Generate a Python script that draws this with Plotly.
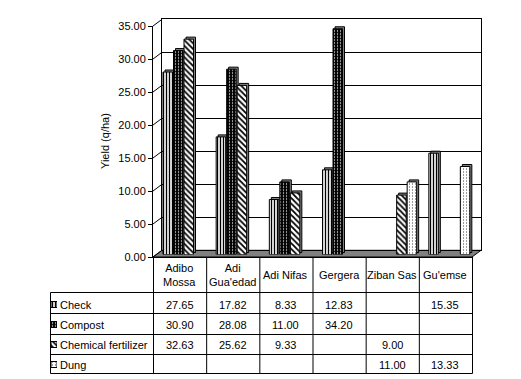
import plotly.graph_objects as go

# ---------------- data ----------------
categories = ["Adibo Mossa", "Adi Gua'edad", "Adi Nifas", "Gergera", "Ziban Sas", "Gu'emse"]
header_labels = ["Adibo<br>Mossa", "Adi<br>Gua'edad", "Adi Nifas", "Gergera", "Ziban Sas", "Gu'emse"]
series_names = ["Check", "Compost", "Chemical fertilizer", "Dung"]
check = [27.65, 17.82, 8.33, 12.83, None, 15.35]
compost = [30.90, 28.08, 11.00, 34.20, None, None]
chemical = [32.63, 25.62, 9.33, None, 9.00, None]
dung = [None, None, None, None, 11.00, 13.33]
y_ticks = [0, 5, 10, 15, 20, 25, 30, 35]
y_title = "Yield (q/ha)"

series_values = [check, compost, chemical, dung]

# ---------------- geometry helpers (pixels -> paper) ----------------
W, H = 521, 379
def px(x):
    return x / W
def py(y):
    return 1 - y / H

FONT = "Arial, Liberation Sans, sans-serif"
FX0, FX1 = 153, 472            # front plane x extent
BX0, BX1 = 162, 481            # back wall x extent
FY0, FY35 = 257, 26            # front axis y of 0 and 35
BY0, BY35 = 250.3, 19.3        # back wall y of 0 and 35
BARY0, BARY35 = 254.5, 23.5    # bar plane y of 0 and 35
YMAX = 35
cat_w = (BX1 - BX0) / len(categories)
unit_px = (BARY0 - BARY35) / YMAX

styles = [
    dict(shape="|", fgcolor="black", bgcolor="white", size=3, solidity=0.45),
    dict(shape=".", fgcolor="white", bgcolor="black", size=3, solidity=0.14),
    dict(shape="\\", fgcolor="black", bgcolor="white", size=4, solidity=0.45),
    dict(shape=".", fgcolor="black", bgcolor="white", size=3, solidity=0.1),
]

fig = go.Figure()

# empty traces so that the wall and the front-axis subplots are drawn
fig.add_trace(go.Scatter(x=[], y=[], xaxis="x", yaxis="y", showlegend=False, hoverinfo="skip"))

# shadow (3D side faces) first, then front faces
for i, vals in enumerate(series_values):
    off = -0.5 + (1 + 10.5 * i) / cat_w
    fig.add_trace(go.Bar(
        x=categories, y=vals, base=2 / unit_px,
        offset=off + 2 / cat_w, width=9.5 / cat_w,
        marker=dict(color="#808080", line=dict(color="black", width=1)),
        xaxis="x2", yaxis="y2", showlegend=False, hoverinfo="skip"))
for i, (name, vals) in enumerate(zip(series_names, series_values)):
    off = -0.5 + (1 + 10.5 * i) / cat_w
    fig.add_trace(go.Bar(
        x=categories, y=vals, name=name,
        offset=off, width=9.5 / cat_w,
        marker=dict(color="white", line=dict(color="black", width=1),
                    pattern=dict(fillmode="replace", **styles[i])),
        xaxis="x2", yaxis="y2", showlegend=False))

fig.add_trace(go.Scatter(x=[], y=[], xaxis="x3", yaxis="y3", showlegend=False, hoverinfo="skip"))

# legend keys in the table's first column
for i, name in enumerate(series_names):
    fig.add_trace(go.Bar(
        x=[1], y=[name], orientation="h", width=[0.3],
        marker=dict(color="white", line=dict(color="black", width=1),
                    pattern=dict(fillmode="replace", **styles[i])),
        xaxis="x4", yaxis="y4", showlegend=False, hoverinfo="skip"))

hidden = dict(visible=False)
fig.update_layout(
    width=W, height=H,
    margin=dict(l=0, r=0, t=0, b=0, autoexpand=False),
    paper_bgcolor="white", plot_bgcolor="rgba(0,0,0,0)",
    barmode="overlay", showlegend=False,
    font=dict(family=FONT, size=11, color="black"),
    # back wall with gridlines
    xaxis=dict(domain=[px(BX0), px(BX1)], range=[0, 1], anchor="y",
               showline=True, mirror=True, linecolor="black", linewidth=1,
               showgrid=False, zeroline=False, showticklabels=False, ticks=""),
    yaxis=dict(domain=[py(BY0), py(BY35)], range=[0, YMAX], anchor="x",
               tickvals=y_ticks, showgrid=True, gridcolor="black", gridwidth=1,
               showline=True, mirror=True, linecolor="black", linewidth=1,
               zeroline=False, showticklabels=False, ticks=""),
    # bars plane
    xaxis2=dict(domain=[px(BX0), px(BX1)], range=[-0.5, len(categories) - 0.5],
                anchor="y2", type="category", categoryarray=categories, **hidden),
    yaxis2=dict(domain=[py(BARY0), py(BARY35)], range=[0, YMAX], anchor="x2", **hidden),
    # front axis
    xaxis3=dict(domain=[px(FX0), px(FX1)], range=[0, 1], anchor="y3",
                showline=True, linecolor="black", linewidth=1,
                showgrid=False, zeroline=False, showticklabels=False, ticks=""),
    yaxis3=dict(domain=[py(FY0), py(FY35)], range=[0, YMAX], anchor="x3",
                tickvals=y_ticks, tickformat=".2f", ticks="outside", ticklen=4,
                tickcolor="black", showline=True, linecolor="black", linewidth=1,
                showgrid=False, zeroline=False, tickfont=dict(size=11, color="black")),
    # legend keys
    xaxis4=dict(domain=[px(51), px(57)], range=[0, 1], anchor="y4", **hidden),
    yaxis4=dict(domain=[py(374.5), py(294.5)], anchor="x4", type="category",
                categoryarray=series_names, range=[len(series_names) - 0.5, -0.5], **hidden),
)

shapes = []
# floor
shapes.append(dict(type="path", xref="paper", yref="paper", layer="below",
                   path="M {},{} L {},{} L {},{} L {},{} Z".format(
                       px(FX0), py(FY0), px(FX1), py(FY0), px(BX1), py(BY0), px(BX0), py(BY0)),
                   fillcolor="#808080", line=dict(color="black", width=1)))
# connectors from front ticks to back wall gridlines
for v in y_ticks:
    yf = FY0 - v * (FY0 - FY35) / YMAX
    yb = BY0 - v * (BY0 - BY35) / YMAX
    shapes.append(dict(type="line", xref="paper", yref="paper",
                       x0=px(FX0), y0=py(yf), x1=px(BX0), y1=py(yb),
                       line=dict(color="black", width=1)))

# data table grid
row_lines = [292.5, 313.5, 334.5, 354.5, 373.5]
col_lines = [FX0 + k * (FX1 - FX0) / len(categories) for k in range(len(categories) + 1)]
for yl in row_lines:
    shapes.append(dict(type="line", xref="paper", yref="paper",
                       x0=px(50.5), x1=px(FX1 + 0.5), y0=py(yl), y1=py(yl),
                       line=dict(color="black", width=1)))
shapes.append(dict(type="line", xref="paper", yref="paper",
                   x0=px(50.5), x1=px(50.5), y0=py(row_lines[0]), y1=py(row_lines[-1]),
                   line=dict(color="black", width=1)))
for xl in col_lines:
    shapes.append(dict(type="line", xref="paper", yref="paper",
                       x0=px(xl + 0.5), x1=px(xl + 0.5), y0=py(FY0), y1=py(row_lines[-1]),
                       line=dict(color="black", width=1)))
fig.update_layout(shapes=shapes)

ann = []
col_w = (FX1 - FX0) / len(categories)
black11 = dict(size=11, color="black")
for j, lab in enumerate(header_labels):
    ann.append(dict(x=px(FX0 + col_w * (j + 0.5)), y=py(275), xref="paper", yref="paper",
                    text=lab, showarrow=False, xanchor="center", yanchor="middle",
                    font=black11))
row_centers = [304.5, 325, 345, 364.5]
for i, (name, vals) in enumerate(zip(series_names, series_values)):
    ann.append(dict(x=px(57.5), y=py(row_centers[i]), xref="paper", yref="paper",
                    text=name, showarrow=False, xanchor="left", yanchor="middle",
                    font=black11))
    for j, v in enumerate(vals):
        if v is None:
            continue
        ann.append(dict(x=px(FX0 + col_w * (j + 0.5)), y=py(row_centers[i]),
                        xref="paper", yref="paper", text="{:.2f}".format(v),
                        showarrow=False, xanchor="center", yanchor="middle",
                        font=black11))
ann.append(dict(x=px(105), y=py(141), xref="paper", yref="paper", text=y_title,
                textangle=-90, showarrow=False, xanchor="center", yanchor="middle",
                font=black11))
fig.update_layout(annotations=ann)

fig.write_html("out.html", config={"displayModeBar": False},
               post_script="document.body.style.margin='0';")
